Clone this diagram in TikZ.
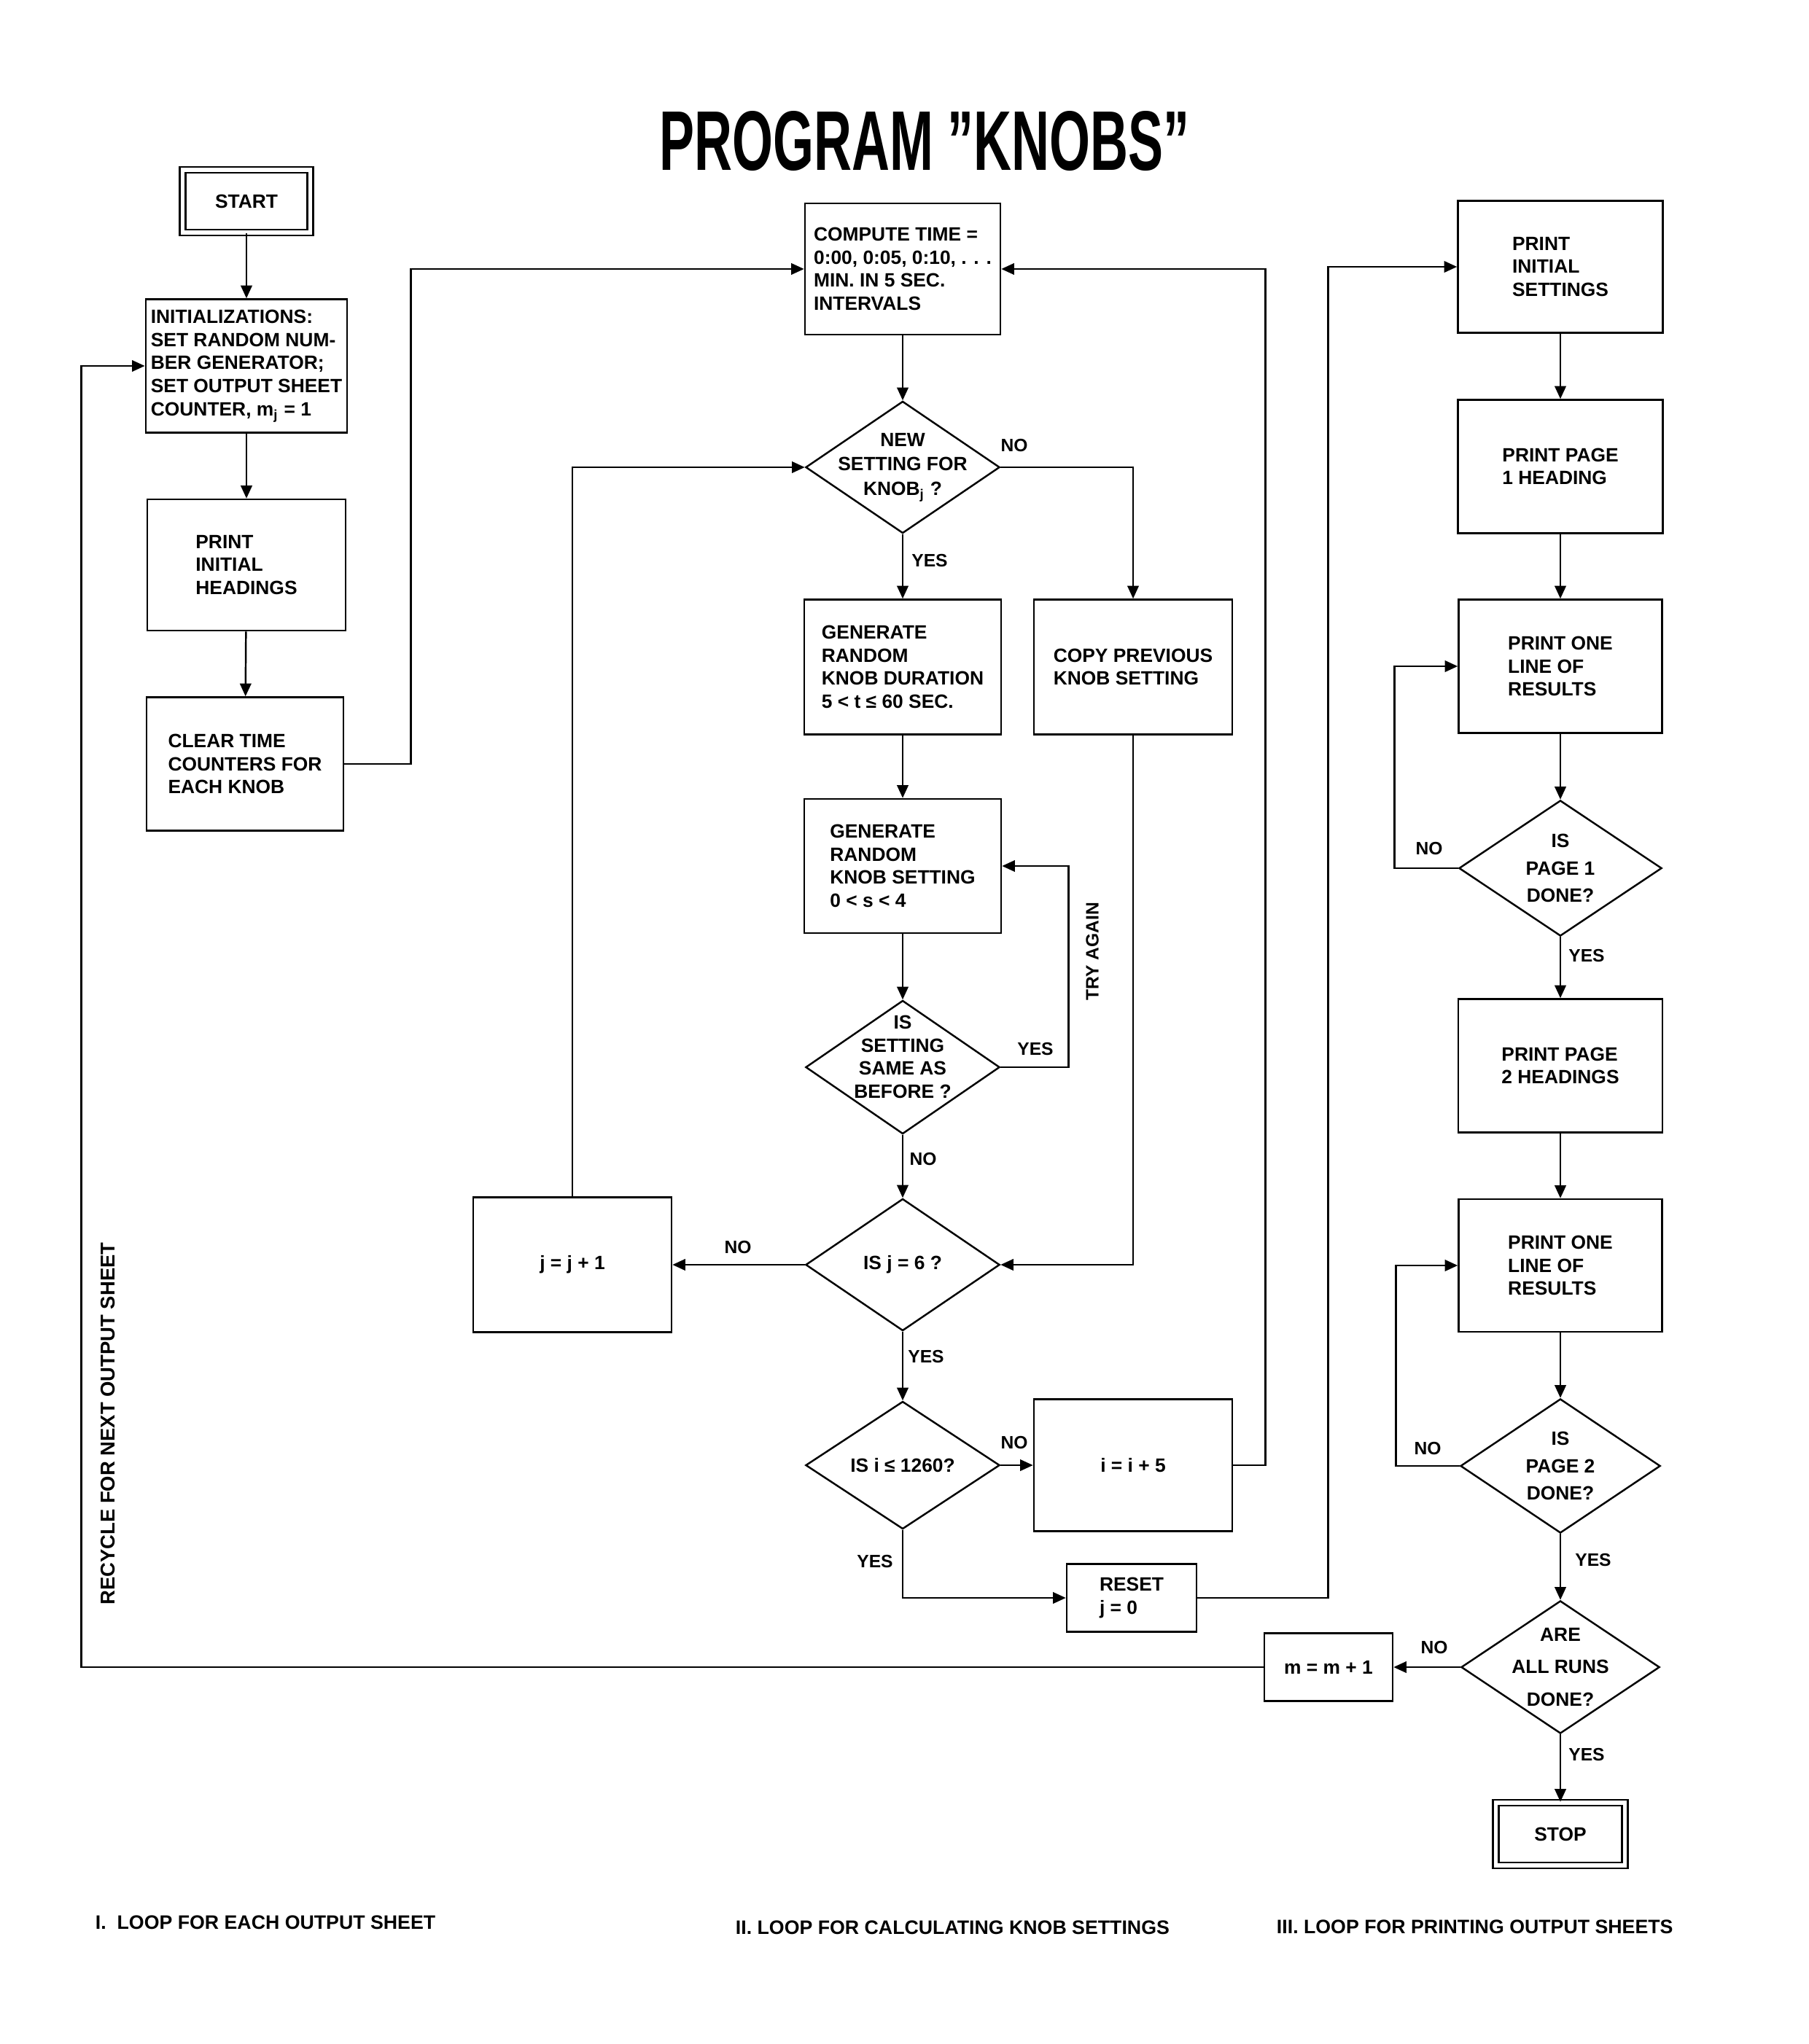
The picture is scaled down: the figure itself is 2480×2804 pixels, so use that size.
\documentclass[tikz,border=0pt]{standalone}
\usepackage{fontspec}
\setmainfont{Liberation Sans}
\usetikzlibrary{arrows.meta}
\usetikzlibrary{shapes.geometric}

\newcommand{\knobfont}{\fontsize{7.5}{9}\selectfont\bfseries}
\newcommand{\answerfont}{\fontsize{7}{8}\selectfont\bfseries}
\newcommand{\loopfont}{\fontsize{7.6}{9}\selectfont\bfseries}

\begin{document}
\begin{tikzpicture}[x=0.01cm, y=-0.01cm, line width=0.7pt,
		>={Triangle[length=5pt, width=4.4pt]},
		knobbox/.style={draw, align=left, font=\knobfont, minimum width=2.72cm, minimum height=1.83cm},
		endbox/.style={draw, double, double distance=1.6pt, font=\knobfont, minimum width=1.75cm, minimum height=0.86cm},
		smallbox/.style={draw, align=left, font=\knobfont, minimum width=1.77cm, minimum height=0.93cm},
		decide/.style n args={3}{diamond, draw, inner sep=0pt, minimum width=2.66cm, minimum height=1.81cm,
			label={[anchor=center, align=center, font=\fontsize{7.5}{#2}\selectfont\bfseries, yshift=#3]center:#1}},
		answer/.style={font=\answerfont}
		]
		
		\useasboundingbox (0,0) rectangle (2480,2804);
		
		\node (title) at (1268,194) {\fontsize{33}{36}\selectfont\bfseries\scalebox{0.62}[1]{PROGRAM ''KNOBS''}};
		
		%loop I
		\node[endbox] (start) at (338,276) {START};
		\node[knobbox, minimum width=2.75cm, inner xsep=2pt] (init) at (338,502) {INITIALIZATIONS:\\SET RANDOM NUM-\\BER GENERATOR;\\SET OUTPUT SHEET\\COUNTER, m\textsubscript{j} = 1};
		\node[knobbox, minimum height=1.8cm] (prhead) at (338,775) {PRINT\\INITIAL\\HEADINGS};
		\node[knobbox, minimum width=2.7cm] (clear) at (336,1048) {CLEAR TIME\\COUNTERS FOR\\EACH KNOB};
		
		%loop II
		\node[knobbox, minimum width=2.68cm, minimum height=1.8cm, inner xsep=2pt] (compute) at (1238,369) {COMPUTE TIME =\\0:00, 0:05, 0:10, . . .\\MIN. IN 5 SEC.\\INTERVALS};
		\node[decide={NEW\\SETTING FOR\\KNOB\textsubscript{j} ?}{9.5}{0pt}] (newset) at (1238,641) {};
		\node[knobbox, minimum width=2.7cm, minimum height=1.85cm] (gendur) at (1238,915) {GENERATE\\RANDOM\\KNOB DURATION\\5 < t ≤ 60 SEC.};
		\node[knobbox, minimum height=1.85cm] (copyprev) at (1554,915) {COPY PREVIOUS\\KNOB SETTING};
		\node[knobbox, minimum width=2.7cm, minimum height=1.84cm] (genset) at (1238,1188) {GENERATE\\RANDOM\\KNOB SETTING\\0 < s < 4};
		\node[decide={IS\\SETTING\\SAME AS\\BEFORE ?}{9}{4pt}, minimum height=1.83cm] (same) at (1238,1464) {};
		\node[decide={IS j = 6 ?}{9}{0pt}] (isj) at (1238,1735) {};
		\node[knobbox, minimum height=1.85cm, align=center] (jinc) at (785,1735) {j = j + 1};
		\node[decide={IS i ≤ 1260?}{9}{0pt}, minimum height=1.75cm] (isi) at (1238,2010) {};
		\node[knobbox, minimum height=1.81cm, align=center] (iinc) at (1554,2010) {i = i + 5};
		\node[smallbox, minimum width=1.78cm] (reset) at (1552,2192) {RESET\\j = 0};
		
		%loop III
		\node[knobbox, minimum width=2.81cm, minimum height=1.81cm] (prset) at (2140,366) {PRINT\\INITIAL\\SETTINGS};
		\node[knobbox, minimum width=2.81cm] (prpage1) at (2140,640) {PRINT PAGE\\1 HEADING};
		\node[knobbox, minimum width=2.79cm] (line1) at (2140,914) {PRINT ONE\\LINE OF\\RESULTS};
		\node[decide={IS\\PAGE 1\\DONE?}{10.7}{0pt}, minimum width=2.78cm, minimum height=1.86cm] (page1) at (2140,1191) {};
		\node[knobbox, minimum width=2.8cm] (prpage2) at (2140,1462) {PRINT PAGE\\2 HEADINGS};
		\node[knobbox, minimum width=2.79cm, minimum height=1.82cm] (line2) at (2140,1736) {PRINT ONE\\LINE OF\\RESULTS};
		\node[decide={IS\\PAGE 2\\DONE?}{10.7}{0pt}, minimum width=2.74cm, minimum height=1.84cm] (page2) at (2140,2011) {};
		\node[decide={ARE\\ALL RUNS\\DONE?}{12.7}{0pt}, minimum width=2.72cm, minimum height=1.82cm] (allruns) at (2140,2287) {};
		\node[smallbox, minimum width=1.76cm, align=center] (minc) at (1822,2287) {m = m + 1};
		\node[endbox, minimum width=1.77cm] (stop) at (2140,2516) {STOP};
		
		%yes / no
		\node[answer] (no1) at (1391,611) {NO};
		\node[answer] (yes1) at (1275,769) {YES};
		\node[answer] (yes2) at (1420,1439) {YES};
		\node[answer, rotate=90] (tryagain) at (1498,1305) {TRY AGAIN};
		\node[answer] (no2) at (1266,1590) {NO};
		\node[answer] (no3) at (1012,1711) {NO};
		\node[answer] (yes3) at (1270,1861) {YES};
		\node[answer] (no4) at (1391,1979) {NO};
		\node[answer] (yes4) at (1200,2142) {YES};
		\node[answer] (no5) at (1960,1164) {NO};
		\node[answer] (yes5) at (2176,1311) {YES};
		\node[answer] (no6) at (1958,1987) {NO};
		\node[answer] (yes6) at (2185,2140) {YES};
		\node[answer] (no7) at (1967,2260) {NO};
		\node[answer] (yes7) at (2176,2407) {YES};
		\node[font=\fontsize{7.8}{9}\selectfont\bfseries, rotate=90] (recycle) at (148,1953) {RECYCLE FOR NEXT OUTPUT SHEET};
		
		%captions
		\node[font=\loopfont, anchor=west] (loop1) at (118,2637) {I.~~LOOP FOR EACH OUTPUT SHEET};
		\node[font=\loopfont, anchor=west] (loop2) at (996,2644) {II. LOOP FOR CALCULATING KNOB SETTINGS};
		\node[font=\loopfont, anchor=west] (loop3) at (1738,2643) {III. LOOP FOR PRINTING OUTPUT SHEETS};
		
		%flow I
		\draw[->] (start) -- (init);
		\draw[->] (init) -- (prhead);
		\draw[->] (prhead) -- (clear);
		\draw[->] (clear.east) -- ++(91,0) |- (compute.west);
		
		%flow II
		\draw[->] (compute) -- (newset);
		\draw[->] (newset) -- (gendur);
		\draw[->] (newset.east) -| (copyprev.north);
		\draw[->] (gendur) -- (genset);
		\draw[->] (genset) -- (same);
		\draw[->] (same.east) -- ++(93,0) |- (genset.east);
		\draw[->] (same) -- (isj);
		\draw[->] (copyprev.south) |- (isj.east);
		\draw[->] (isj) -- (jinc);
		\draw[->] (jinc.north) |- (newset.west);
		\draw[->] (isj) -- (isi);
		\draw[->] (isi) -- (iinc);
		\draw[->] (iinc.east) -- ++(44,0) |- (compute.east);
		\draw[->] (isi.south) |- (reset.west);
		\draw[->] (reset.east) -- ++(179,0) |- (prset.west);
		
		%flow III
		\draw[->] (prset) -- (prpage1);
		\draw[->] (prpage1) -- (line1);
		\draw[->] (line1) -- (page1);
		\draw[->] (page1.west) -- ++(-87,0) |- (line1.west);
		\draw[->] (page1) -- (prpage2);
		\draw[->] (prpage2) -- (line2);
		\draw[->] (line2) -- (page2);
		\draw[->] (page2.west) -- ++(-87,0) |- (line2.west);
		\draw[->] (page2) -- (allruns);
		\draw[->] (allruns) -- (minc);
		\draw[->] (allruns) -- (stop);
		\draw[->] (minc.west) -- ++(-1621,0) |- (init.west);
	\end{tikzpicture}
\end{document}
